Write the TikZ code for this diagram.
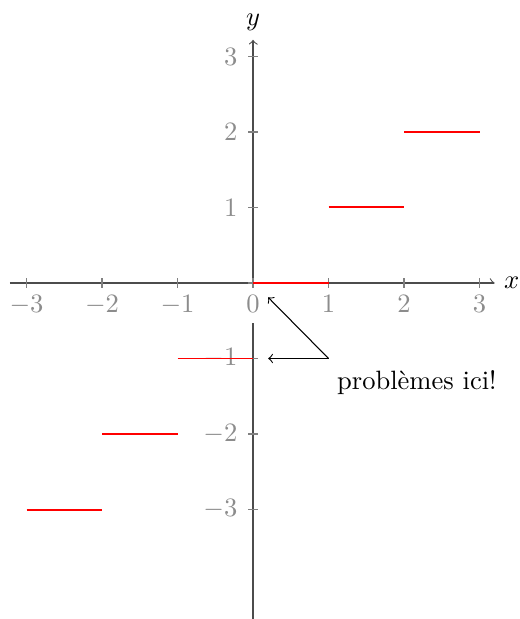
\documentclass[tikz,border=0pt]{standalone}
\usepackage{amsmath,amssymb}
\usepackage{tikz}

\begin{document}
\begin{tikzpicture}[x=1cm,y=1cm,
  axe/.style={->,black!70,thin},
  tick/.style={black!50,semithick},
  lab/.style={text=black!45,fill=white,inner sep=4.3pt},
  palier/.style={red,line width=0.75pt}]
\useasboundingbox (-3.351,-4.450) rectangle (3.523,3.748);
\draw[axe] (-3.22,0) -- (3.2,0) node[right,black] (xlab) {$x$};
\draw[axe] (0,-4.45) -- (0,3.22) node[above,black] (ylab) {$y$};
\foreach \x in {-3,...,3} \node[lab,below] (xt\x) at (\x,0) {$\x$};
\foreach \y in {-3,-2,-1,1,2,3} \node[lab,left] (yt\y) at (-0.05,\y) {$\y$};
\foreach \x in {-3,...,3} \draw[tick] (\x,0.065) -- (\x,-0.065);
\foreach \y in {-3,...,3} \draw[tick] (-0.065,\y) -- (0.065,\y);
\foreach \n in {-3,...,2} \draw[palier] (\n,\n) -- ({\n+1},\n);
\node (note) at (2.17,-1.32) {probl\`emes ici!};
\coordinate (src) at (1,-1);
\coordinate (t1) at (0.2,-0.19); \coordinate (t2) at (0.2,-1);
\draw[->] (src) -- (t1); \draw[->] (src) -- (t2);
\end{tikzpicture}
\end{document}
